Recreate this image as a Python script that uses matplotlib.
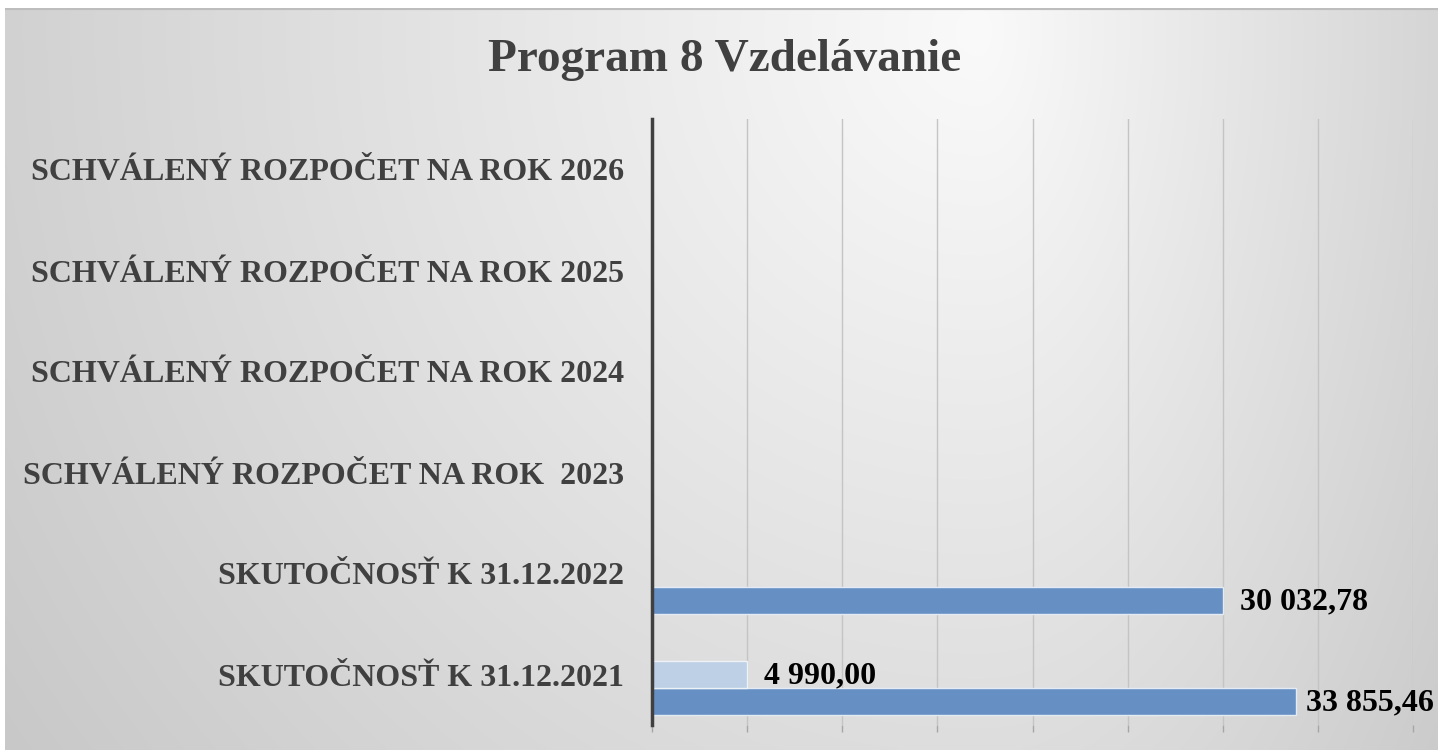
import numpy as np
import matplotlib
matplotlib.use("Agg")
from matplotlib import pyplot as plt

title = "Program 8 Vzdelávanie"
categories = [
    "SKUTOČNOSŤ K 31.12.2021",
    "SKUTOČNOSŤ K 31.12.2022",
    "SCHVÁLENÝ ROZPOČET NA ROK  2023",
    "SCHVÁLENÝ ROZPOČET NA ROK 2024",
    "SCHVÁLENÝ ROZPOČET NA ROK 2025",
    "SCHVÁLENÝ ROZPOČET NA ROK 2026",
]
# series 1 (dark) and series 2 (light); None = no value
series_dark = [33855.46, 30032.78, None, None, None, None]
series_light = [4990.00, None, None, None, None, None]


def fmt(v):
    s = f"{v:,.2f}"
    return s.replace(",", " ").replace(".", ",")


W, H, DPI = 1438, 750, 100
fig = plt.figure(figsize=(W / DPI, H / DPI), dpi=DPI)
fig.patch.set_facecolor("white")

# background gradient
bg = fig.add_axes([5 / W, 0, 1 - 5 / W, 1 - 8 / H])
xs = np.linspace(5, W, 400)
ys = np.linspace(8, H, 220)
X, Y = np.meshgrid(xs, ys)
dx = X - 980
sx = np.where(dx < 0, 1150, 600)
r = np.sqrt((dx / sx) ** 2 + ((Y - 30) / 1200) ** 2)
v = np.clip(250 - 48 * r, 190, 255) / 255
bg.imshow(np.dstack([v, v, v]), aspect="auto", extent=[0, 1, 0, 1], interpolation="bilinear")
bg.set_xlim(0, 1)
bg.set_ylim(0, 1)
bg.axis("off")
bg.axhline(1, color="#bdbdbd", lw=3)

ax = fig.add_axes([652 / W, 1 - 725 / H, (1413 - 652) / W, (725 - 119) / H])
ax.patch.set_alpha(0)

h = 0.27
y = np.arange(len(categories))
dark_col = "#6690c4"
light_col = "#bdd0e6"
labels = []
for i, val in enumerate(series_dark):
    if val is not None:
        ax.barh(y[i] - h, val, height=h, color=dark_col, edgecolor="#e4ebf3", lw=1, zorder=3)
        labels.append((val, y[i] - h))
for i, val in enumerate(series_light):
    if val is not None:
        ax.barh(y[i], val, height=h, color=light_col, edgecolor="#eef2f7", lw=1, zorder=3)
        labels.append((val, y[i]))

ax.set_xlim(0, 40000)
ax.set_ylim(-0.5, len(categories) - 0.5)
ax.set_xticks(np.arange(0, 40001, 5000))
ax.set_xticklabels([])
ax.tick_params(axis="x", length=5, color="#a6a6a6", width=1)
ax.set_yticks(y)
ax.set_yticklabels(categories, fontsize=23, fontweight="bold", family="Liberation Serif", color="#404040")
ax.tick_params(axis="y", length=0, pad=20)
ax.grid(axis="x", color="#c4c4c4", lw=1, zorder=0)
for s in ["top", "right", "bottom"]:
    ax.spines[s].set_visible(False)
ax.spines["left"].set_color("#404040")
ax.spines["left"].set_linewidth(2.5)
ax.spines["left"].set_zorder(5)

# data labels, pulled back in if they would run off the figure
renderer = fig.canvas.get_renderer()
for val, yy in labels:
    t = ax.annotate(fmt(val), (val, yy), xytext=(12, -1), textcoords="offset points",
                    va="center", ha="left", fontsize=23, fontweight="bold",
                    family="Liberation Serif", color="black", zorder=4)
    bb = t.get_window_extent(renderer)
    over = bb.x1 - (W - 4)
    if over > 0:
        t.set_position((12 - over * 72 / DPI, -1))

fig.text(725 / W, 1 - 60 / H, title, ha="center", va="center", fontsize=34,
         fontweight="bold", family="Liberation Serif", color="#404040")

fig.savefig("out.png", dpi=DPI)
